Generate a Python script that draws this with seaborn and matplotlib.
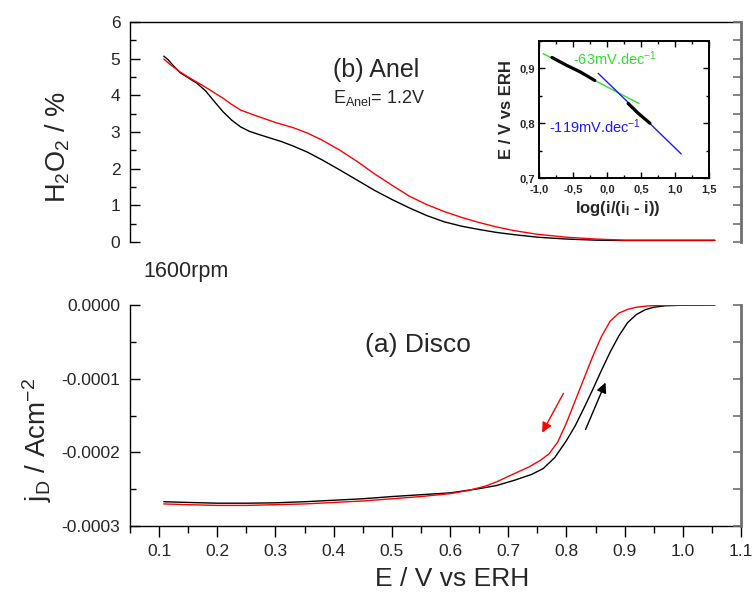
import numpy as np
import pandas as pd
import matplotlib
matplotlib.use("Agg")
import matplotlib.pyplot as plt
import seaborn as sns
from matplotlib.ticker import FixedLocator, MultipleLocator, FuncFormatter

# ---------------- data ----------------
# (b) ring: H2O2 %
ring_black_E = [0.108, 0.115, 0.125, 0.136, 0.15, 0.165, 0.18, 0.195, 0.21, 0.225, 0.24, 0.255,
                0.27, 0.29, 0.31, 0.33, 0.355, 0.38, 0.41, 0.44, 0.47, 0.50, 0.53, 0.56, 0.59,
                0.62, 0.65, 0.68, 0.71, 0.75, 0.80, 0.85, 0.90, 0.95, 1.0, 1.055]
ring_black_H = [5.07, 4.98, 4.80, 4.62, 4.48, 4.33, 4.12, 3.83, 3.55, 3.32, 3.14, 3.02,
                2.94, 2.84, 2.74, 2.62, 2.45, 2.24, 1.97, 1.69, 1.41, 1.16, 0.93, 0.72, 0.55,
                0.43, 0.34, 0.26, 0.20, 0.13, 0.08, 0.05, 0.04, 0.04, 0.04, 0.04]
ring_red_E = [0.108, 0.12, 0.136, 0.15, 0.165, 0.18, 0.195, 0.21, 0.225, 0.24, 0.26, 0.28,
              0.30, 0.33, 0.355, 0.38, 0.41, 0.44, 0.47, 0.50, 0.53, 0.56, 0.59, 0.62, 0.65,
              0.68, 0.71, 0.75, 0.80, 0.85, 0.90, 0.95, 1.0, 1.055]
ring_red_H = [4.99, 4.83, 4.64, 4.50, 4.36, 4.22, 4.07, 3.92, 3.75, 3.60, 3.48, 3.37,
              3.26, 3.12, 2.97, 2.78, 2.51, 2.20, 1.86, 1.55, 1.25, 1.02, 0.83, 0.67, 0.53,
              0.41, 0.31, 0.21, 0.13, 0.08, 0.05, 0.05, 0.05, 0.05]

# (a) disc: current density (A cm-2)
disc_black_E = [0.108, 0.15, 0.2, 0.25, 0.3, 0.35, 0.4, 0.45, 0.5, 0.55, 0.6, 0.652, 0.68,
                0.71, 0.74, 0.76, 0.78, 0.80, 0.815, 0.83, 0.845, 0.86, 0.875, 0.89, 0.905,
                0.92, 0.935, 0.95, 0.97, 1.0, 1.055]
disc_black_j = [-2.67e-4, -2.68e-4, -2.69e-4, -2.69e-4, -2.685e-4, -2.67e-4, -2.65e-4,
                -2.63e-4, -2.60e-4, -2.575e-4, -2.55e-4, -2.49e-4, -2.45e-4,
                -2.38e-4, -2.30e-4, -2.22e-4, -2.07e-4, -1.84e-4, -1.64e-4, -1.40e-4,
                -1.15e-4, -0.89e-4, -0.64e-4, -0.42e-4, -0.24e-4,
                -0.13e-4, -0.065e-4, -0.03e-4, -0.01e-4, -0.002e-4, 0.0]
disc_red_E = [0.108, 0.15, 0.2, 0.25, 0.3, 0.35, 0.4, 0.45, 0.5, 0.55, 0.6, 0.63, 0.66,
              0.68, 0.71, 0.735, 0.755, 0.77, 0.785, 0.80, 0.815, 0.83, 0.845, 0.86, 0.875,
              0.89, 0.905, 0.92, 0.94, 0.97, 1.0, 1.055]
disc_red_j = [-2.70e-4, -2.71e-4, -2.72e-4, -2.72e-4, -2.71e-4, -2.70e-4, -2.68e-4,
              -2.66e-4, -2.63e-4, -2.60e-4, -2.56e-4, -2.52e-4, -2.46e-4,
              -2.40e-4, -2.29e-4, -2.20e-4, -2.11e-4, -2.02e-4, -1.86e-4, -1.60e-4,
              -1.30e-4, -1.00e-4, -0.70e-4, -0.43e-4, -0.22e-4,
              -0.11e-4, -0.06e-4, -0.03e-4, -0.012e-4, -0.003e-4, 0.0, 0.0]

# inset Tafel plot
tafel_seg1_x = [-0.81, -0.60, -0.40, -0.18]
tafel_seg1_y = [0.920, 0.906, 0.894, 0.878]
tafel_seg2_x = [0.31, 0.45, 0.63]
tafel_seg2_y = [0.836, 0.819, 0.800]
green_x = [-0.94, 0.47]
green_y = [0.927, 0.836]
blue_x = [-0.13, 1.09]
blue_y = [0.891, 0.744]

x_ticks = [0.1, 0.2, 0.3, 0.4, 0.5, 0.6, 0.7, 0.8, 0.9, 1.0, 1.1]
ring_yticks = [0, 1, 2, 3, 4, 5, 6]
disc_yticks = [0.0, -0.0001, -0.0002, -0.0003]
inset_xticks = [-1.0, -0.5, 0.0, 0.5, 1.0, 1.5]
inset_yticks = [0.7, 0.8, 0.9]

# ---------------- style ----------------
sns.set_theme(style="white")
plt.rcParams["font.family"] = ["Liberation Sans", "DejaVu Sans"]
plt.rcParams["mathtext.fontset"] = "custom"
plt.rcParams["mathtext.rm"] = "Liberation Sans"
plt.rcParams["mathtext.it"] = "Liberation Sans:italic"
plt.rcParams["mathtext.bf"] = "Liberation Sans:bold"
plt.rcParams["mathtext.default"] = "regular"

fig = plt.figure(figsize=(7.52, 5.96), dpi=100)
ax_top = fig.add_axes([0.1729, 0.594, 0.8125, 0.369])
ax_bot = fig.add_axes([0.1729, 0.1174, 0.8125, 0.3708])

GRAY = "#707070"
XLIM = (0.05, 1.1)

# ---------- top panel (ring) ----------
sns.lineplot(x=ring_black_E, y=ring_black_H, ax=ax_top, color="black", lw=1.0,
             sort=False, estimator=None)
sns.lineplot(x=ring_red_E, y=ring_red_H, ax=ax_top, color="red", lw=1.0,
             sort=False, estimator=None)
ax_top.set_xlim(*XLIM)
ax_top.set_ylim(0, 6)
ax_top.spines["bottom"].set_visible(False)
ax_top.spines["right"].set_visible(False)
for s in ["left", "top"]:
    ax_top.spines[s].set_color("black")
    ax_top.spines[s].set_linewidth(1.0)
ax_top.set_xticks([])
ax_top.yaxis.set_major_locator(FixedLocator(ring_yticks))
ax_top.yaxis.set_minor_locator(MultipleLocator(0.5))
ax_top.tick_params(axis="y", which="both", direction="in", left=True, right=False,
                   color="black", labelsize=12.5, pad=7)
ax_top.tick_params(axis="y", which="major", length=7, width=1)
ax_top.tick_params(axis="y", which="minor", length=4, width=1)
ax_top.set_ylabel(r"H$_2$O$_2$ / %", fontsize=19.5)
ax_top.yaxis.set_label_coords(-0.095, 0.43)

axr = ax_top.twinx()
axr.set_ylim(0, 6)
for s in ["left", "top", "bottom"]:
    axr.spines[s].set_visible(False)
axr.spines["right"].set_color(GRAY)
axr.spines["right"].set_linewidth(2)
axr.yaxis.set_major_locator(MultipleLocator(0.5))
axr.tick_params(axis="y", which="both", direction="in", right=True, labelright=False,
                color=GRAY, length=6, width=1.2)

ax_top.text(0.332, 0.782, "(b) Anel", transform=ax_top.transAxes, fontsize=18,
            ha="left", va="center")
ax_top.text(0.333, 0.632, r"E$_{Anel}$= 1.2V", transform=ax_top.transAxes, fontsize=13,
            ha="left", va="baseline")

fig.text(0.19, 0.545, "1600rpm", fontsize=15.5, ha="left", va="center")

# ---------- bottom panel (disc) ----------
sns.lineplot(x=disc_black_E, y=disc_black_j, ax=ax_bot, color="black", lw=1.0,
             sort=False, estimator=None)
sns.lineplot(x=disc_red_E, y=disc_red_j, ax=ax_bot, color="red", lw=1.0,
             sort=False, estimator=None)
ax_bot.set_xlim(*XLIM)
ax_bot.set_ylim(-0.0003, 0.0)
ax_bot.spines["top"].set_visible(False)
ax_bot.spines["right"].set_visible(False)
for s in ["left", "bottom"]:
    ax_bot.spines[s].set_color("black")
    ax_bot.spines[s].set_linewidth(1.0)
ax_bot.xaxis.set_major_locator(FixedLocator(x_ticks))
ax_bot.xaxis.set_minor_locator(MultipleLocator(0.05))
ax_bot.xaxis.set_major_formatter(FuncFormatter(lambda v, p: f"{v:.1f}"))
ax_bot.yaxis.set_major_locator(FixedLocator(disc_yticks))
ax_bot.yaxis.set_minor_locator(MultipleLocator(0.00005))
ax_bot.yaxis.set_major_formatter(
    FuncFormatter(lambda v, p: "0.0000" if abs(v) < 1e-12 else f"{v:.4f}"))
ax_bot.tick_params(axis="x", which="both", direction="out", bottom=True, top=False,
                   color="black", labelsize=12.5, pad=5)
ax_bot.tick_params(axis="x", which="major", length=8, width=1)
ax_bot.tick_params(axis="x", which="minor", length=5, width=1)
ax_bot.tick_params(axis="y", which="both", direction="in", left=True, right=False,
                   color="black", labelsize=12.5, pad=7)
ax_bot.tick_params(axis="y", which="major", length=7, width=1)
ax_bot.tick_params(axis="y", which="minor", length=4, width=1)
ax_bot.set_xlabel("E / V vs ERH", fontsize=19)
ax_bot.xaxis.set_label_coords(0.527, -0.185)
ax_bot.set_ylabel(r"j$_D$ / Acm$^{-2}$", fontsize=20)
ax_bot.yaxis.set_label_coords(-0.125, 0.39)

axr2 = ax_bot.twinx()
axr2.set_ylim(-0.0003, 0.0)
for s in ["left", "top", "bottom"]:
    axr2.spines[s].set_visible(False)
axr2.spines["right"].set_color(GRAY)
axr2.spines["right"].set_linewidth(2)
axr2.yaxis.set_major_locator(MultipleLocator(0.00005))
axr2.tick_params(axis="y", which="both", direction="in", right=True, labelright=False,
                 color=GRAY, length=6, width=1.2)

ax_bot.text(0.385, 0.819, "(a) Disco", transform=ax_bot.transAxes, fontsize=19,
            ha="left", va="center")

ax_bot.annotate("", xy=(0.756, -1.765e-4), xytext=(0.797, -1.167e-4),
                arrowprops=dict(arrowstyle="-|>", color="red", lw=1.0, mutation_scale=15))
ax_bot.annotate("", xy=(0.869, -1.018e-4), xytext=(0.831, -1.724e-4),
                arrowprops=dict(arrowstyle="-|>", color="black", lw=1.0, mutation_scale=15))

# ---------- inset (Tafel) ----------
ax_in = fig.add_axes([0.7168, 0.7013, 0.2261, 0.2299])
sns.lineplot(x=green_x, y=green_y, ax=ax_in, color="#33e033", lw=1.0, sort=False, estimator=None)
sns.lineplot(x=blue_x, y=blue_y, ax=ax_in, color="#1a1aff", lw=1.0, sort=False, estimator=None)
sns.lineplot(x=tafel_seg1_x, y=tafel_seg1_y, ax=ax_in, color="black", lw=2.3,
             sort=False, estimator=None)
sns.lineplot(x=tafel_seg2_x, y=tafel_seg2_y, ax=ax_in, color="black", lw=2.3,
             sort=False, estimator=None)
ax_in.set_xlim(-1.0, 1.5)
ax_in.set_ylim(0.7, 0.95)
for s in ax_in.spines.values():
    s.set_visible(True)
    s.set_color("black")
    s.set_linewidth(1.4)
ax_in.xaxis.set_major_locator(FixedLocator(inset_xticks))
ax_in.xaxis.set_minor_locator(MultipleLocator(0.25))
ax_in.yaxis.set_major_locator(FixedLocator(inset_yticks))
ax_in.yaxis.set_minor_locator(MultipleLocator(0.05))
comma = FuncFormatter(lambda v, p: f"{v:.1f}".replace(".", ","))
ax_in.xaxis.set_major_formatter(comma)
ax_in.yaxis.set_major_formatter(comma)
ax_in.tick_params(which="both", direction="in", top=True, right=True, bottom=True, left=True,
                  color="black", labelsize=8)
ax_in.tick_params(axis="x", pad=4.5)
ax_in.tick_params(axis="y", pad=3)
ax_in.tick_params(which="major", length=4, width=1)
ax_in.tick_params(which="minor", length=2.5, width=1)
for lab in ax_in.get_xticklabels() + ax_in.get_yticklabels():
    lab.set_fontweight("bold")
ax_in.set_xlabel(r"log(i/(i$_{\mathbf{l}}$ - i))", fontsize=12, fontweight="bold")
ax_in.xaxis.set_label_coords(0.46, -0.15)
ax_in.set_ylabel("E / V vs ERH", fontsize=12, fontweight="bold")
ax_in.yaxis.set_label_coords(-0.15, 0.5)
ax_in.text(0.12, 0.918, r"-63mV.dec$^{-1}$", color="#33e033", fontsize=10.5,
           ha="center", va="center")
ax_in.text(-0.18, 0.793, r"-119mV.dec$^{-1}$", color="#1a1aff", fontsize=10.5,
           ha="center", va="center")

fig.savefig("out.png", dpi=100)
